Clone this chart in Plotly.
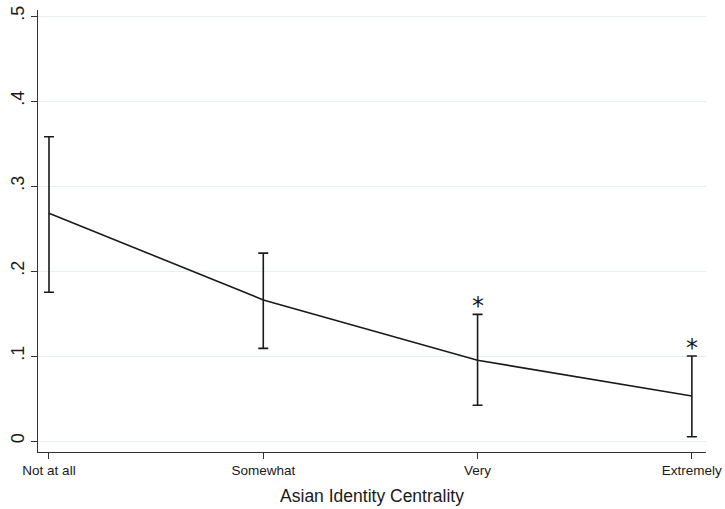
import plotly.graph_objects as go

categories = ["Not at all", "Somewhat", "Very", "Extremely"]
means = [0.268, 0.166, 0.095, 0.053]
ci_upper = [0.358, 0.221, 0.149, 0.100]
ci_lower = [0.175, 0.109, 0.042, 0.005]
significant = [False, False, True, True]
y_ticks = [0, 0.1, 0.2, 0.3, 0.4, 0.5]
y_tick_labels = ["0", ".1", ".2", ".3", ".4", ".5"]

xs = list(range(len(categories)))
ink = "#1a1a1a"

fig = go.Figure()
fig.add_trace(go.Scatter(
    x=xs, y=means, mode="lines",
    line=dict(color=ink, width=1.6),
    error_y=dict(type="data", symmetric=False,
                 array=[u - m for u, m in zip(ci_upper, means)],
                 arrayminus=[m - l for m, l in zip(means, ci_lower)],
                 color=ink, thickness=1.6, width=5),
    showlegend=False, hoverinfo="skip",
))

for x, u, s in zip(xs, ci_upper, significant):
    if s:
        fig.add_annotation(x=x, y=u, text="*", showarrow=False,
                           yanchor="bottom", yshift=-8,
                           font=dict(size=24, color=ink, family="DejaVu Sans"))

fig.update_layout(
    width=725, height=509,
    margin=dict(l=38, r=19, t=10, b=57),
    paper_bgcolor="white", plot_bgcolor="white",
    font=dict(family="Liberation Sans", color=ink),
    xaxis=dict(
        range=[-0.0513, 3.066], tickvals=xs, ticktext=categories,
        automargin=False,
        showgrid=False, zeroline=False, showline=True, linecolor="#333", linewidth=1.2,
        ticks="outside", ticklen=6, tickcolor="#333",
        tickfont=dict(size=13.5, color=ink),
        title=dict(text="Asian Identity Centrality", font=dict(size=17.5, color=ink), standoff=12),
    ),
    yaxis=dict(
        range=[-0.01294, 0.50706], tickvals=y_ticks, ticktext=y_tick_labels,
        automargin=False,
        tickangle=-90, showgrid=True, gridcolor="#e6f0f1", gridwidth=1,
        zeroline=False, showline=True, linecolor="#333", linewidth=1.2,
        ticks="outside", ticklen=6, tickcolor="#333",
        tickfont=dict(size=18, color=ink),
    ),
)

fig.write_html("out.html", config={"displayModeBar": False},
               post_script="document.body.style.margin='0';document.body.style.overflow='hidden';")
